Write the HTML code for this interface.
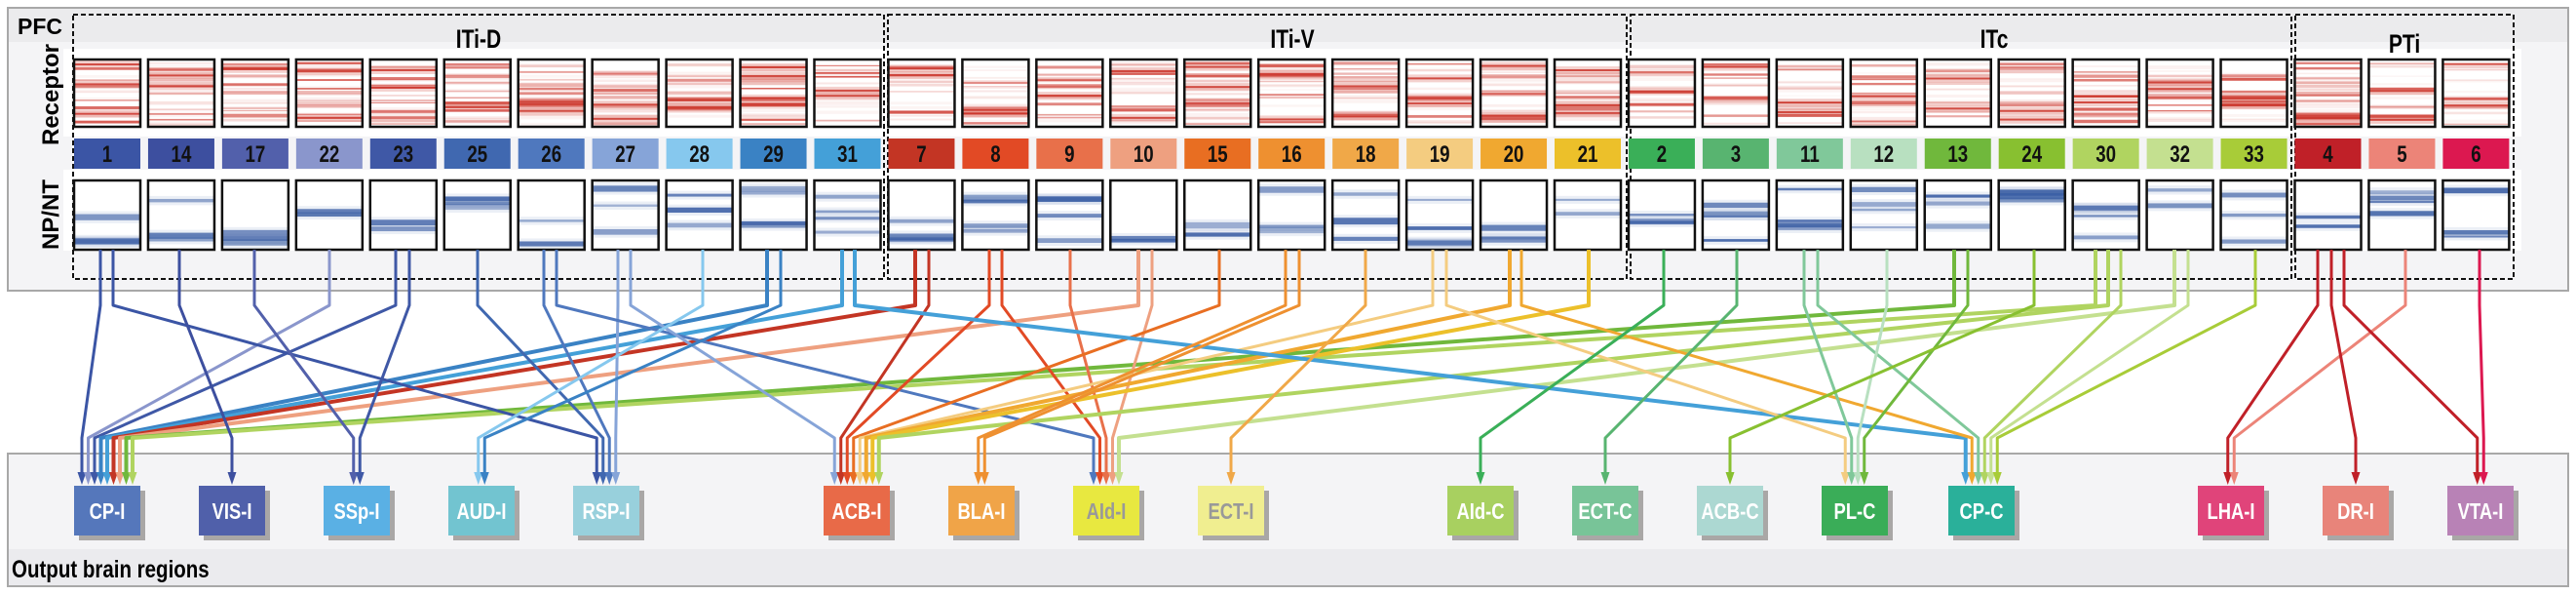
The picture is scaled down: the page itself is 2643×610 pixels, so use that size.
<!DOCTYPE html>
<html><head><meta charset="utf-8">
<style>
html,body{margin:0;padding:0;background:#fff;}
svg{display:block;font-family:"Liberation Sans",sans-serif;}
</style></head>
<body>
<svg id="s" width="2643" height="610" viewBox="0 0 2643 610" xmlns="http://www.w3.org/2000/svg">
<rect x="8" y="8" width="2627" height="290" fill="#f4f4f6" stroke="#a8a8a8" stroke-width="2"/>
<rect x="9" y="9" width="2625" height="34" fill="#ebebed"/>
<rect x="65" y="50" width="2522" height="90" fill="#fff"/>
<rect x="65" y="174" width="2522" height="83" fill="#fff"/>
<text x="18" y="35" font-size="23" font-weight="bold">PFC</text>
<text transform="translate(60,97) rotate(-90)" text-anchor="middle" font-size="24" font-weight="bold">Receptor</text>
<text transform="translate(60,220) rotate(-90)" text-anchor="middle" font-size="24" font-weight="bold">NP/NT</text>
<g fill="none" stroke="#111" stroke-width="2" stroke-dasharray="5,3">
<rect x="75" y="15" width="832" height="271"/>
<rect x="911" y="15" width="758" height="271"/>
<rect x="1673" y="15" width="678" height="271"/>
<rect x="2355" y="15" width="224" height="271"/>
</g>
<g font-size="27" font-weight="bold" text-anchor="middle">
<text transform="translate(491,49) scale(0.78,1)">ITi-D</text>
<text transform="translate(1326,49) scale(0.78,1)">ITi-V</text>
<text transform="translate(2046,49) scale(0.78,1)">ITc</text>
<text transform="translate(2467,54) scale(0.78,1)">PTi</text>
</g>
<rect x="8" y="465" width="2627" height="136" fill="#f4f4f6" stroke="#a8a8a8" stroke-width="2"/>
<rect x="9" y="563" width="2625" height="37" fill="#ebebee"/>
<text transform="translate(12,592) scale(0.82,1)" font-size="25" font-weight="bold">Output brain regions</text>
<g id="cards"></g>
<g id="links"></g>
<g id="nodes"></g>
</svg>
<script>
var NS="http://www.w3.org/2000/svg";
function el(t,a,p){var e=document.createElementNS(NS,t);for(var k in a)e.setAttribute(k,a[k]);(p||document.getElementById('s')).appendChild(e);return e;}
var ids=["1","14","17","22","23","25","26","27","28","29","31","7","8","9","10","15","16","18","19","20","21","2","3","11","12","13","24","30","32","33","4","5","6"];
var col={"1":"#3b55a5","14":"#3d4f9f","17":"#5260ab","22":"#8a96cc","23":"#3f58a6","25":"#4068b0","26":"#4f78be","27":"#86a4d8","28":"#86c8ee","29":"#3a82c4","31":"#44a0d8","7":"#c33524","8":"#e24a25","9":"#e8704a","10":"#eea080","15":"#e86e22","16":"#ee9030","18":"#f0a848","19":"#f4cc80","20":"#f0a830","21":"#ecc02a","2":"#3aaf58","3":"#58b470","11":"#80c89a","12":"#b8e0c0","13":"#70b83c","24":"#88c030","30":"#b0d460","32":"#c4e090","33":"#a8cc38","4":"#c02028","5":"#ec8478","6":"#dc1850"};
var seed=11;function rnd(){seed=(seed*16807)%2147483647;return seed/2147483647;}
var cg=document.getElementById('cards');
ids.forEach(function(id,i){
 var x=76+i*75.95;
 el('rect',{x:x,y:61,width:68,height:69,fill:'#fff'},cg);
 var n=18+Math.floor(rnd()*12);
 for(var j=0;j<n;j++){var y=63+rnd()*64;var h=1+rnd()*2.5;var a=Math.pow(rnd(),3)*0.75+0.05;
  el('rect',{x:x,y:y,width:68,height:h,fill:'rgb(205,55,45)','fill-opacity':a},cg);}
 var b=1+Math.floor(rnd()*3);
 for(var j=0;j<b;j++){var y=65+rnd()*58;el('rect',{x:x,y:y,width:68,height:2,fill:'rgb(200,45,35)','fill-opacity':0.85},cg);
  el('rect',{x:x,y:y-3,width:68,height:8,fill:'rgb(210,70,60)','fill-opacity':0.25},cg);}
 el('rect',{x:x,y:61,width:68,height:69,fill:'none',stroke:'#111','stroke-width':2.5},cg);
 el('rect',{x:x,y:142,width:68,height:31,fill:col[id]},cg);
 var t=el('text',{transform:'translate('+(x+34)+',166) scale(0.78,1)','font-size':24,'font-weight':'bold','text-anchor':'middle',fill:'#111'},cg);t.textContent=id;
 el('rect',{x:x,y:185,width:68,height:71,fill:'#fff'},cg);
 var m=2+Math.floor(rnd()*3);
 for(var j=0;j<m;j++){var y=190+rnd()*58;var h=2+rnd()*5;var a=0.4+rnd()*0.5;
  el('rect',{x:x,y:y,width:68,height:h,fill:'rgb(60,95,165)','fill-opacity':a},cg);
  el('rect',{x:x,y:y-3,width:68,height:h+6,fill:'rgb(60,95,165)','fill-opacity':0.1},cg);}
 el('rect',{x:x,y:185,width:68,height:71,fill:'none',stroke:'#111','stroke-width':2.5},cg);
});
var nodes={"CP-I":[76,"#5577bb","#fff"],"VIS-I":[204,"#5060aa","#fff"],"SSp-I":[332,"#5ab0e4","#fff"],"AUD-I":[460,"#72c4d0","#fff"],"RSP-I":[588,"#98d0dc","#fff"],"ACB-I":[845,"#e86a48","#fff"],"BLA-I":[973,"#f0a448","#fff"],"AId-I":[1101,"#e8e840","#999"],"ECT-I":[1229,"#f0ee90","#999"],"AId-C":[1485,"#a8d060","#fff"],"ECT-C":[1613,"#78c498","#fff"],"ACB-C":[1741,"#acd8d2","#fff"],"PL-C":[1869,"#3aad58","#fff"],"CP-C":[1999,"#2ab09a","#fff"],"LHA-I":[2255,"#e0447a","#fff"],"DR-I":[2383,"#e8847a","#fff"],"VTA-I":[2511,"#b882b6","#fff"]};
var L=[[103,"1","CP-I"],[116,"1","RSP-I"],[184,"14","VIS-I"],[261,"17","SSp-I"],[338,"22","CP-I"],[406,"23","CP-I"],[420,"23","SSp-I"],[490,"25","RSP-I"],[558,"26","RSP-I"],[571,"26","AId-I"],[634,"27","RSP-I"],[647,"27","ACB-I"],[721,"28","AUD-I"],[787,"29","CP-I"],[801,"29","AUD-I"],[864,"31","CP-I"],[877,"31","CP-C"],
[939,"7","CP-I"],[953,"7","ACB-I"],[1015,"8","ACB-I"],[1028,"8","AId-I"],[1098,"9","AId-I"],[1168,"10","CP-I"],[1182,"10","AId-I"],[1251,"15","ACB-I"],[1319,"16","BLA-I"],[1333,"16","BLA-I"],[1401,"18","ECT-I"],[1470,"19","ACB-I"],[1484,"19","PL-C"],[1549,"20","ACB-I"],[1561,"20","CP-C"],[1630,"21","ACB-I"],
[1707,"2","AId-C"],[1782,"3","ECT-C"],[1851,"11","PL-C"],[1865,"11","CP-C"],[1936,"12","PL-C"],[2005,"13","CP-I"],[2019,"13","PL-C"],[2087,"24","ACB-C"],[2150,"30","CP-I"],[2163,"30","ACB-I"],[2176,"30","CP-C"],[2231,"32","AId-I"],[2245,"32","CP-C"],[2314,"33","CP-C"],
[2378,"4","LHA-I"],[2392,"4","DR-I"],[2405,"4","VTA-I"],[2468,"5","LHA-I"],[2544,"6","VTA-I"]];
var groups={};L.forEach(function(l){(groups[l[2]]=groups[l[2]]||[]).push(l);});
var lg=document.getElementById('links');
for(var g in groups){var arr=groups[g].sort(function(a,b){return a[0]-b[0];});var cx=nodes[g][0]+34;var n=arr.length;var sp=6.5;
 arr.forEach(function(l,k){var tx=cx+(k-(n-1)/2)*sp;var c=col[l[1]];
  var d=Math.abs(tx-l[0]);var w=d>600?4:3;
  el('polyline',{points:l[0]+',256 '+l[0]+',313 '+tx+',449 '+tx+',486',fill:'none',stroke:c,'stroke-width':w,'stroke-linejoin':'round'},lg);
  el('polygon',{points:(tx-4.5)+',484 '+(tx+4.5)+',484 '+tx+',497',fill:c},lg);
 });}
var ng=document.getElementById('nodes');
for(var k in nodes){var v=nodes[k];
 el('rect',{x:v[0]+5,y:503,width:68,height:51,fill:'#a9a7a6'},ng);
 el('rect',{x:v[0],y:498,width:68,height:51,fill:v[1]},ng);
 var t=el('text',{transform:'translate('+(v[0]+34)+',532) scale(0.8,1)','font-size':23,'font-weight':'bold','text-anchor':'middle',fill:v[2]},ng);t.textContent=k;}
</script>
</body></html>
